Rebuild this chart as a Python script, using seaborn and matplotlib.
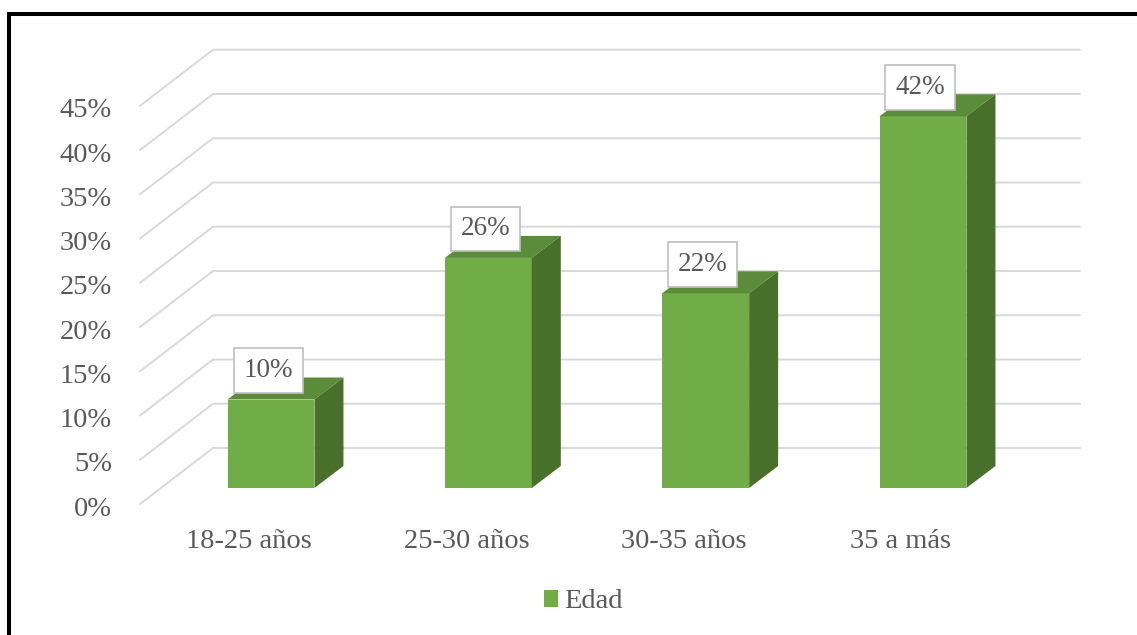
import matplotlib
matplotlib.use("Agg")
import matplotlib.pyplot as plt
import seaborn as sns
import pandas as pd
from matplotlib.patches import Polygon, Rectangle
from matplotlib.lines import Line2D
from matplotlib.transforms import IdentityTransform

# ---- data ----
categories = ["18-25 años", "25-30 años", "30-35 años", "35 a más"]
values = [10, 26, 22, 42]
tick_values = [0, 5, 10, 15, 20, 25, 30, 35, 40, 45]
tick_labels = [f"{v}%" for v in tick_values]
series_name = "Edad"

# ---- style ----
FRONT = "#70AD47"
TOP = "#5A8C39"
SIDE = "#48702B"
GRID = "#D9D9D9"
TXT = "#595959"

sns.set_theme(style="white")
plt.rcParams['font.family'] = ['Liberation Serif', 'DejaVu Serif']

W, H = 1137, 635
fig = plt.figure(figsize=(W / 100, H / 100), dpi=100)


def fpx(x0, y0top, x1, y1top):
    return [x0 / W, 1 - y1top / H, (x1 - x0) / W, (y1top - y0top) / H]


AX_L, AX_R, AX_T, AX_B = 140, 1080, 40, 510
X0_PX, XSTEP = 271, 217.33   # pixel of first bar centre, spacing
Y0_PX, YSTEP = 488, 8.85     # pixel of 0 %, px per 1 %

ax = fig.add_axes(fpx(AX_L, AX_T, AX_R, AX_B))
df = pd.DataFrame({"cat": categories, "val": values})
sns.barplot(data=df, x="cat", y="val", color=FRONT, saturation=1, width=0.4,
            ax=ax, label=series_name, zorder=3, linewidth=0)
ax.set_xlim((AX_L - X0_PX) / XSTEP, (AX_R - X0_PX) / XSTEP)
ax.set_ylim((Y0_PX - AX_B) / YSTEP, (Y0_PX - AX_T) / YSTEP)
ax.axis("off")

fig.canvas.draw()
T = ax.transData.transform
ID = IdentityTransform()

DEPTH = (29, 22)      # bar depth vector (display px, y up)
BACK = (51, 40)       # back wall from bar front plane
FRONTF = (-22, -16)   # front floor edge from bar front plane

axl_disp = ax.transAxes.transform((0, 0))[0]
axr_disp = ax.transAxes.transform((1, 0))[0]

# gridlines + tick labels
for v, lab in zip(tick_values, tick_labels):
    py = T((0, v))[1]
    fx, fy = axl_disp, py + FRONTF[1]
    bx, by = axl_disp + (BACK[0] - FRONTF[0]), py + BACK[1]
    ax.add_line(Line2D([fx, bx, axr_disp], [fy, by, by], transform=ID,
                       color=GRID, lw=1.4, zorder=1, clip_on=False))
    ax.text(fx - 28, fy - 5, lab, transform=ID, ha="right", va="center",
            fontsize=20.5, color=TXT)

# 3D faces and labels
for p, cat, val in zip(ax.patches, categories, values):
    x0 = p.get_x()
    x1 = x0 + p.get_width()
    h = p.get_height()
    A = T((x0, h)); B = T((x1, h)); C = T((x1, 0))
    d = DEPTH
    top = [A, B, (B[0] + d[0], B[1] + d[1]), (A[0] + d[0], A[1] + d[1])]
    side = [B, C, (C[0] + d[0], C[1] + d[1]), (B[0] + d[0], B[1] + d[1])]
    ax.add_patch(Polygon(top, closed=True, transform=ID, facecolor=TOP,
                         edgecolor="none", zorder=3, clip_on=False))
    ax.add_patch(Polygon(side, closed=True, transform=ID, facecolor=SIDE,
                         edgecolor="none", zorder=3, clip_on=False))
    cx = (A[0] + B[0]) / 2
    # data label
    ax.text(cx - 3, A[1] + 29, f"{val}%", transform=ID, ha="center",
            va="center", fontsize=19.5, color=TXT, zorder=5,
            bbox=dict(boxstyle="square,pad=0.36", facecolor="white",
                      edgecolor="#BFBFBF", linewidth=1.2))
    # category label
    base = T((0, 0))[1]
    ax.text(cx - 22, base - 53, cat, transform=ID, ha="center", va="center",
            fontsize=20.5, color=TXT)

# legend
leg = ax.legend(loc="center", bbox_to_anchor=(583 / W, 1 - 602 / H),
                bbox_transform=fig.transFigure, frameon=False, fontsize=20.5,
                handlelength=0.5, handleheight=0.5, handletextpad=0.2,
                labelcolor=TXT)

# outer border
fig.add_artist(Rectangle((8.7 / W, -0.05), 1.2, 1 - 13.7 / H + 0.05,
                         transform=fig.transFigure, fill=False,
                         edgecolor="black", linewidth=2.9))

fig.savefig("out.png", dpi=100)
